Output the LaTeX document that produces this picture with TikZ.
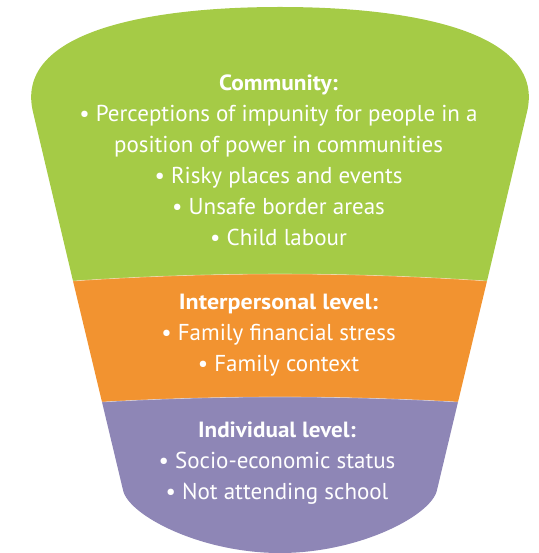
\documentclass[tikz,border=0pt]{standalone}
\usepackage{fontspec}
\setmainfont{PT Sans}
\newfontfamily\headfont{PT Sans Bold}
\definecolor{cgreen}{HTML}{A5CB46}
\definecolor{corange}{HTML}{F29330}
\definecolor{cpurple}{HTML}{8E86B6}
\newcommand{\hd}[2]{\scalebox{#1}[1]{\headfont\fontsize{22}{30.8}\selectfont #2}}
\begin{document}
\begin{tikzpicture}[x=1pt,y=-1pt,
  seam/.style={draw=white,draw opacity=0.45,line width=0.6pt},
  level/.style={text=white,align=center,font=\fontsize{23}{30.8}\selectfont,inner sep=0pt}]
\useasboundingbox (0,0) rectangle (538,553);
% green section
\fill[cgreen] (33,112) .. controls (14.4,34.2) and (140,7) .. (280,7)
  .. controls (420,7) and (545.6,34.2) .. (527,112)
  -- (487,281) .. controls (349,271.7) and (211,271.7) .. (73,281) -- cycle;
% orange section
\fill[corange] (73,281) .. controls (211,271.7) and (349,271.7) .. (487,281)
  -- (458,402) .. controls (339,395.3) and (221,395.3) .. (102,402) -- cycle;
% purple section
\fill[cpurple] (102,402) .. controls (221,395.3) and (339,395.3) .. (458,402)
  -- (437,490) .. controls (432,515) and (360,553) .. (280,553)
  .. controls (200,553) and (128,515) .. (123,490) -- cycle;
\draw[seam] (73,281) .. controls (211,271.7) and (349,271.7) .. (487,281);
\draw[seam] (102,402) .. controls (221,395.3) and (339,395.3) .. (458,402);
% texts
\node[level,anchor=base] (community) at (278.5,245)
  {\hd{1.06}{Community:}\\
   • Perceptions of impunity for people in a\\
   position of power in communities\\
   • Risky places and events\\
   • Unsafe border areas\\
   • Child labour};
\node[level,anchor=base] (interpersonal) at (278.5,371)
  {\hd{1.09}{Interpersonal level:}\\
   • Family financial stress\\
   • Family context};
\node[level,anchor=base] (individual) at (277,499)
  {\hd{1.05}{Individual level:}\\
   • Socio-economic status\\
   • Not attending school};
\end{tikzpicture}
\end{document}
